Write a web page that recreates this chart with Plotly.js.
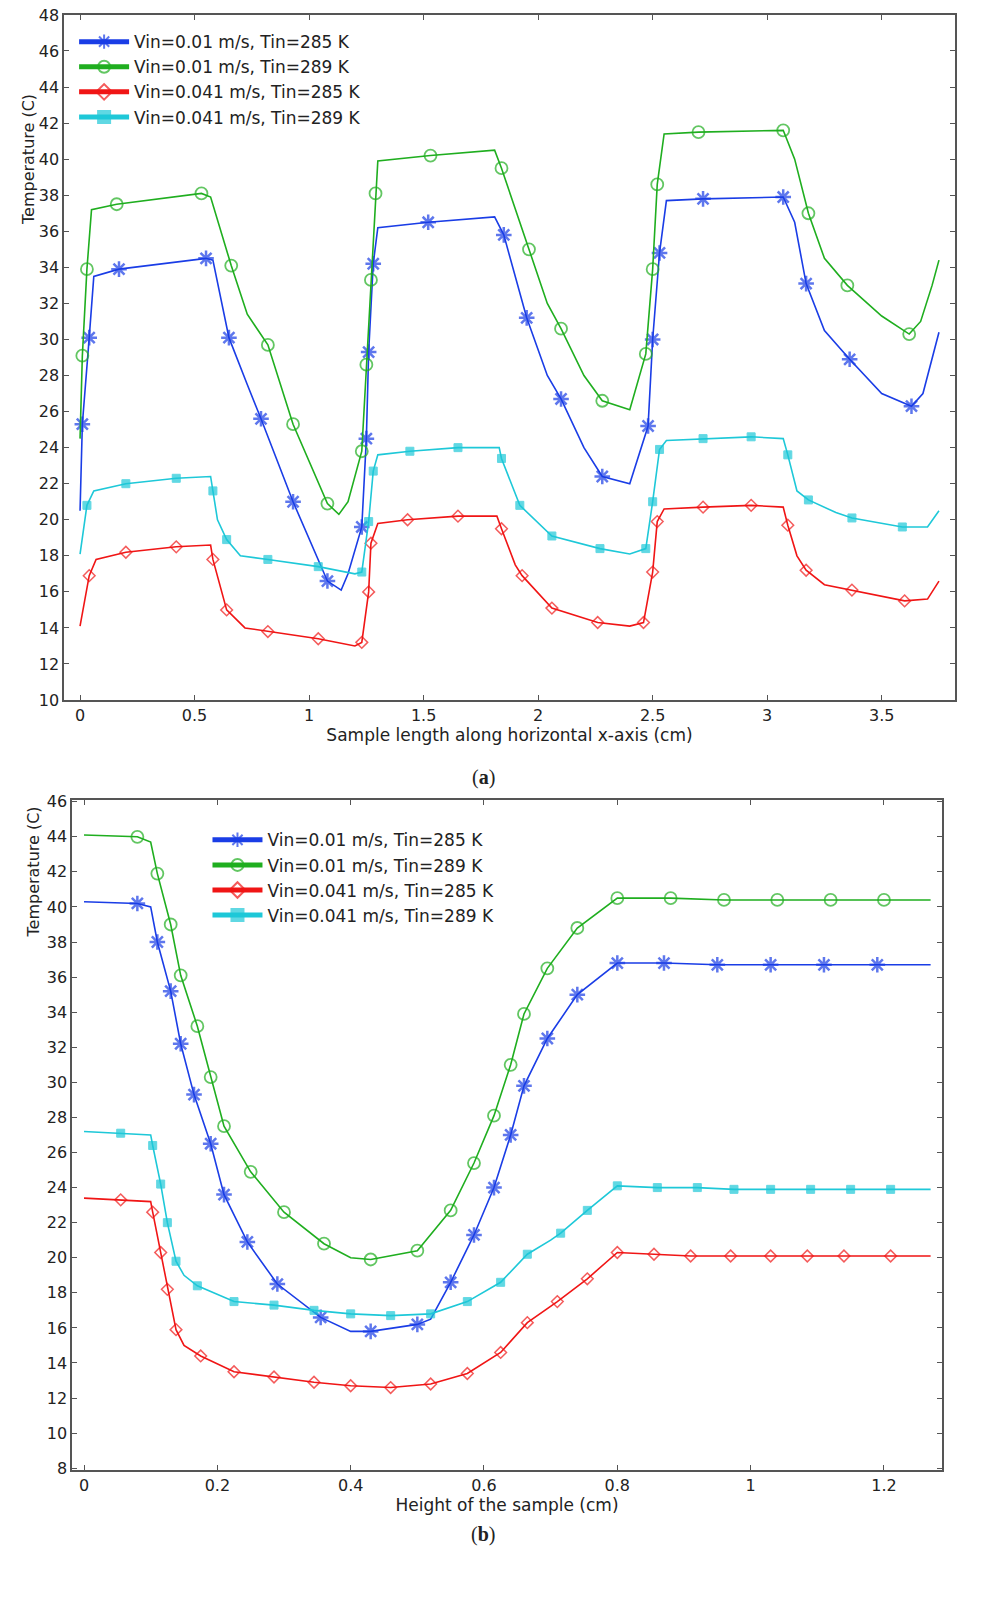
<!DOCTYPE html>
<html><head><meta charset="utf-8">
<script src="https://cdn.plot.ly/plotly-3.0.1.min.js"></script>
<style>body{margin:0}#chart{width:988px;height:1606px}</style>
</head><body><div id="chart"></div>
<script>
var names = ['Vin=0.01 m/s, Tin=285 K','Vin=0.01 m/s, Tin=289 K','Vin=0.041 m/s, Tin=285 K','Vin=0.041 m/s, Tin=289 K'];

// panel (a): x, temperature, marker flag
var aBlueX = [0,0.01,0.04,0.06,0.17,0.55,0.58,0.65,0.73,0.79,0.93,1.08,1.14,1.17,1.23,1.25,1.26,1.28,1.3,1.52,1.81,1.85,1.95,2.04,2.1,2.2,2.28,2.4,2.48,2.5,2.53,2.56,2.72,3.07,3.12,3.17,3.25,3.36,3.5,3.63,3.68,3.73,3.75];
var aBlueY = [20.5,25.3,30.1,33.5,33.9,34.5,34.4,30.1,27.5,25.6,21,16.6,16.1,17,19.6,24.5,29.3,34.2,36.2,36.5,36.8,35.8,31.2,28,26.7,24,22.4,22,25.2,30,34.8,37.7,37.8,37.9,36.5,33.1,30.5,28.9,27,26.3,27,29.5,30.4];
var aBlueM = [0,1,1,0,1,1,0,1,0,1,1,1,0,0,1,1,1,1,0,1,0,1,1,0,1,0,1,0,1,1,1,0,1,1,0,1,0,1,0,1,0,0,0];

var aGreenX = [0,0.01,0.03,0.05,0.16,0.53,0.57,0.66,0.73,0.82,0.93,1.08,1.13,1.17,1.23,1.25,1.27,1.29,1.3,1.53,1.81,1.84,1.96,2.04,2.1,2.2,2.28,2.4,2.47,2.5,2.52,2.55,2.7,3.07,3.12,3.18,3.25,3.35,3.5,3.62,3.67,3.72,3.75];
var aGreenY = [24.5,29.1,33.9,37.2,37.5,38.1,37.9,34.1,31.4,29.7,25.3,20.9,20.3,21,23.8,28.6,33.3,38.1,39.9,40.2,40.5,39.5,35,32,30.6,28,26.6,26.1,29.2,33.9,38.6,41.4,41.5,41.6,40,37,34.5,33,31.3,30.3,31,33,34.4];
var aGreenM = [0,1,1,0,1,1,0,1,0,1,1,1,0,0,1,1,1,1,0,1,0,1,1,0,1,0,1,0,1,1,1,0,1,1,0,1,0,1,0,1,0,0,0];

var aRedX = [0,0.04,0.07,0.2,0.42,0.57,0.58,0.62,0.64,0.72,0.82,1.04,1.2,1.23,1.26,1.27,1.3,1.43,1.65,1.82,1.84,1.9,1.93,2.06,2.26,2.4,2.46,2.5,2.52,2.55,2.72,2.93,3.07,3.09,3.13,3.17,3.25,3.37,3.6,3.7,3.75];
var aRedY = [14.1,16.9,17.8,18.2,18.5,18.6,17.8,16,15,14,13.8,13.4,13,13.2,16,18.7,19.8,20,20.2,20.2,19.5,17.5,16.9,15.1,14.3,14.1,14.3,17.1,19.9,20.6,20.7,20.8,20.7,19.7,18,17.2,16.4,16.1,15.5,15.6,16.6];
var aRedM = [0,1,0,1,1,0,1,0,1,0,1,1,0,1,1,1,0,1,1,0,1,0,1,1,1,0,1,1,1,0,1,1,0,1,0,1,0,1,1,0,0];

var aCyanX = [0,0.03,0.06,0.2,0.42,0.57,0.58,0.6,0.64,0.7,0.82,1.04,1.2,1.23,1.26,1.28,1.3,1.44,1.65,1.83,1.84,1.9,1.92,2.06,2.27,2.4,2.47,2.5,2.53,2.56,2.72,2.93,3.07,3.09,3.13,3.18,3.3,3.37,3.59,3.7,3.75];
var aCyanY = [18.1,20.8,21.6,22,22.3,22.4,21.6,20,18.9,18,17.8,17.4,17,17.1,19.9,22.7,23.6,23.8,24,24,23.4,21.5,20.8,19.1,18.4,18.1,18.4,21,23.9,24.4,24.5,24.6,24.5,23.6,21.6,21.1,20.4,20.1,19.6,19.6,20.5];
var aCyanM = [0,1,0,1,1,0,1,0,1,0,1,1,0,1,1,1,0,1,1,0,1,0,1,1,1,0,1,1,1,0,1,1,0,1,0,1,0,1,1,0,0];

// panel (b)
var bBlueX = [0,0.08,0.1,0.11,0.13,0.145,0.165,0.19,0.21,0.245,0.29,0.355,0.4,0.43,0.5,0.52,0.55,0.585,0.615,0.64,0.66,0.695,0.74,0.8,0.87,0.95,1.03,1.11,1.19,1.27];
var bBlueY = [40.3,40.2,40,38,35.2,32.2,29.3,26.5,23.6,20.9,18.5,16.6,15.8,15.8,16.2,16.5,18.6,21.3,24,27,29.8,32.5,35,36.8,36.8,36.7,36.7,36.7,36.7,36.7];
var bBlueM = [0,1,0,1,1,1,1,1,1,1,1,1,0,1,1,0,1,1,1,1,1,1,1,1,1,1,1,1,1,0];

var bGreenX = [0,0.08,0.1,0.11,0.13,0.145,0.17,0.19,0.21,0.25,0.3,0.36,0.4,0.43,0.5,0.55,0.585,0.615,0.64,0.66,0.695,0.74,0.8,0.88,0.96,1.04,1.12,1.2,1.27];
var bGreenY = [44.1,44,43.7,41.9,39,36.1,33.2,30.3,27.5,24.9,22.6,20.8,20,19.9,20.4,22.7,25.4,28.1,31,33.9,36.5,38.8,40.5,40.5,40.4,40.4,40.4,40.4,40.4];
var bGreenM = [0,1,0,1,1,1,1,1,1,1,1,1,0,1,1,1,1,1,1,1,1,1,1,1,1,1,1,1,0];

var bRedX = [0,0.055,0.1,0.103,0.115,0.125,0.138,0.15,0.175,0.225,0.285,0.345,0.4,0.46,0.52,0.575,0.625,0.665,0.71,0.755,0.8,0.855,0.91,0.97,1.03,1.085,1.14,1.21,1.27];
var bRedY = [23.4,23.3,23.2,22.6,20.3,18.2,15.9,15,14.4,13.5,13.2,12.9,12.7,12.6,12.8,13.4,14.6,16.3,17.5,18.8,20.3,20.2,20.1,20.1,20.1,20.1,20.1,20.1,20.1];
var bRedM = [0,1,0,1,1,1,1,0,1,1,1,1,1,1,1,1,1,1,1,1,1,1,1,1,1,1,1,1,0];

var bCyanX = [0,0.055,0.1,0.103,0.115,0.125,0.138,0.15,0.17,0.225,0.285,0.345,0.4,0.46,0.52,0.575,0.625,0.665,0.7,0.715,0.755,0.8,0.86,0.92,0.975,1.03,1.09,1.15,1.21,1.27];
var bCyanY = [27.2,27.1,27,26.4,24.2,22,19.8,19,18.4,17.5,17.3,17,16.8,16.7,16.8,17.5,18.6,20.2,21,21.4,22.7,24.1,24,24,23.9,23.9,23.9,23.9,23.9,23.9];
var bCyanM = [0,1,0,1,1,1,1,0,1,1,1,1,1,1,1,1,1,1,0,1,1,1,1,1,1,1,1,1,1,0];

var styles = [
  {color:'#1a3de6', symbol:'asterisk-open', size:13, lw:2.5},
  {color:'#1fae1f', symbol:'circle-open', size:12, lw:1.8},
  {color:'#f01515', symbol:'diamond-open', size:9, lw:1.5},
  {color:'#1ec8d8', symbol:'square', size:8, lw:1}
];

function mk(x, y, m, i, panel) {
  var s = styles[i];
  return {
    x: x, y: y, type: 'scatter', mode: 'lines+markers', name: names[i],
    xaxis: panel ? 'x2' : 'x', yaxis: panel ? 'y2' : 'y',
    legend: panel ? 'legend2' : 'legend',
    line: {color: s.color, width: 1.6},
    marker: {symbol: s.symbol, color: s.color, size: m.map(function(v){return v ? s.size : 0;}),
             line: {color: s.color, width: s.lw}}
  };
}

var data = [
  mk(aBlueX, aBlueY, aBlueM, 0, 0), mk(aGreenX, aGreenY, aGreenM, 1, 0),
  mk(aRedX, aRedY, aRedM, 2, 0), mk(aCyanX, aCyanY, aCyanM, 3, 0),
  mk(bBlueX, bBlueY, bBlueM, 0, 1), mk(bGreenX, bGreenY, bGreenM, 1, 1),
  mk(bRedX, bRedY, bRedM, 2, 1), mk(bCyanX, bCyanY, bCyanM, 3, 1)
];

var ax = {showgrid:false, zeroline:false, showline:true, mirror:'ticks', linecolor:'#555', linewidth:1.5,
  ticks:'inside', ticklen:5, tickcolor:'#555', tickfont:{size:16, color:'#222'}};
function A(o){ return Object.assign({}, ax, o); }

var layout = {
  width: 988, height: 1606, margin: {l:0, r:0, t:0, b:0},
  paper_bgcolor: '#fff', plot_bgcolor: '#fff',
  font: {family: 'DejaVu Sans', size: 16, color: '#222'},
  xaxis: A({domain:[0.0648,0.9666], range:[-0.07,3.82], dtick:0.5, anchor:'y',
    title:{text:'Sample length along horizontal x-axis (cm)', font:{size:17}, standoff:4}}),
  yaxis: A({domain:[0.5641,0.9907], range:[10,48], dtick:2, anchor:'x'}),
  xaxis2: A({domain:[0.0729,0.9534], range:[-0.018,1.287], dtick:0.2, anchor:'y2',
    title:{text:'Height of the sample (cm)', font:{size:17}, standoff:4}}),
  yaxis2: A({domain:[0.0847,0.5019], range:[7.9,46.1], dtick:2, anchor:'x2'}),
  legend: {x:0.075, y:0.985, xanchor:'left', yanchor:'top', bgcolor:'rgba(0,0,0,0)', itemsizing:'constant',
    itemwidth:50, font:{size:17}},
  legend2: {x:0.21, y:0.488, xanchor:'left', yanchor:'top', bgcolor:'rgba(0,0,0,0)', itemsizing:'constant',
    itemwidth:50, font:{size:17}},
  annotations: [
    {text:'Temperature (C)', textangle:-90, x:17/988, y:1-92/1606, xref:'paper', yref:'paper', showarrow:false, font:{size:16}},
    {text:'Temperature (C)', textangle:-90, x:22/988, y:1-872/1606, xref:'paper', yref:'paper', showarrow:false, font:{size:16}},
    {text:'(<b>a</b>)', x:0.489, y:1-778/1606, xref:'paper', yref:'paper', showarrow:false, font:{family:'Liberation Serif', size:20}},
    {text:'(<b>b</b>)', x:0.489, y:1-1548/1606, xref:'paper', yref:'paper', showarrow:false, font:{family:'Liberation Serif', size:20}}
  ]
};

Plotly.newPlot('chart', data, layout, {displayModeBar:false});
</script></body></html>
